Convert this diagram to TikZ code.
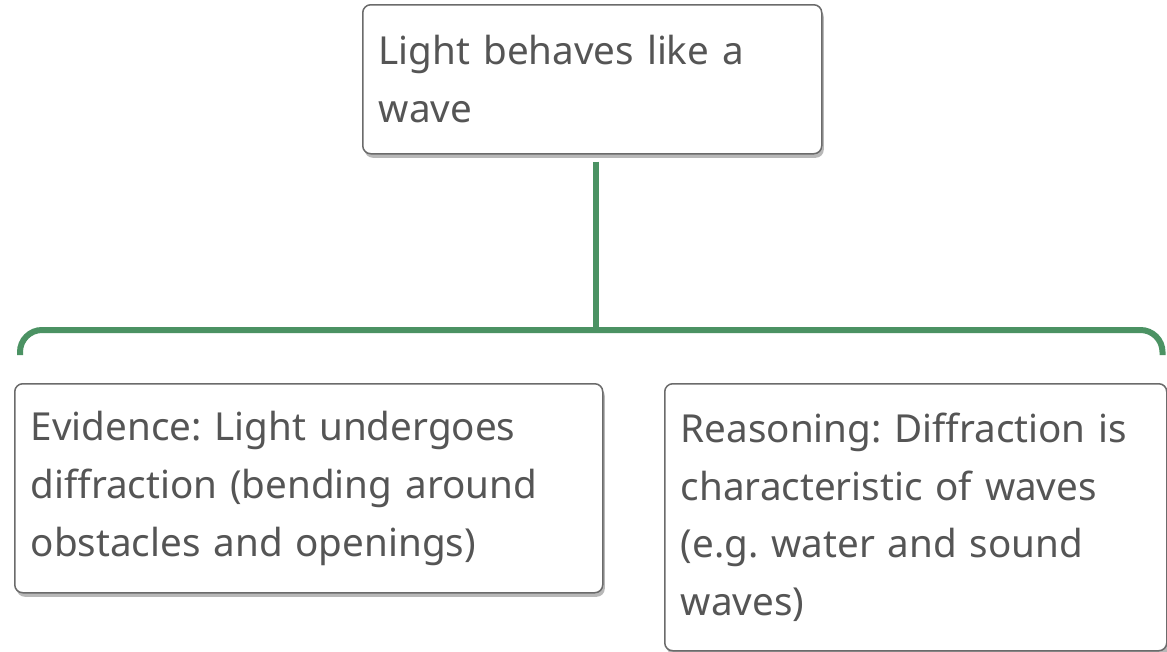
\documentclass[tikz,border=0pt]{standalone}
\usepackage{fontspec}
\setmainfont{Noto Sans}
\usepackage{xcolor}
\usepackage{tikz}
\usetikzlibrary{positioning,calc,shadows}
\definecolor{linkgreen}{HTML}{4B9263}
\definecolor{textgray}{HTML}{555555}
\definecolor{framegray}{HTML}{6B6B6B}
\frenchspacing

\begin{document}
\begin{tikzpicture}[x=1pt, y=-1pt,
    block/.style={rectangle, draw=framegray, line width=1.5pt, fill=white, rounded corners=8pt,
      text=textgray, align=left, inner xsep=16pt, inner ysep=0pt, anchor=north west,
      font=\fontsize{38.6}{57.8}\selectfont,
      drop shadow={shadow xshift=2pt, shadow yshift=-4pt, fill=black, opacity=0.28}},
    link/.style={draw=linkgreen, line width=6pt}]
    \useasboundingbox (0,0) rectangle (1167,651);

    \node[block, text width=427pt, minimum height=149pt] (idea) at (362,4) {Light behaves like a\\wave};
    \node[block, text width=556pt, minimum height=209pt] (evidence) at (14,383) {Evidence: Light undergoes\\diffraction (bending around\\obstacles and openings)};
    \node[block, text width=470pt, minimum height=267pt] (reasoning) at (664,383) {Reasoning: Diffraction is\\characteristic of waves\\(e.g. water and sound\\waves)};

    \draw[link, rounded corners=22pt] ([shift={(6,-28)}]evidence.north west) |- ([shift={(-5,-53)}]reasoning.north east) coordinate (barend) -- ([shift={(-5,-28)}]reasoning.north east);
    \draw[link, shorten <=7pt] ([xshift=4pt]idea.south) -- ([xshift=4pt]idea.south |- barend);
\end{tikzpicture}
\end{document}
